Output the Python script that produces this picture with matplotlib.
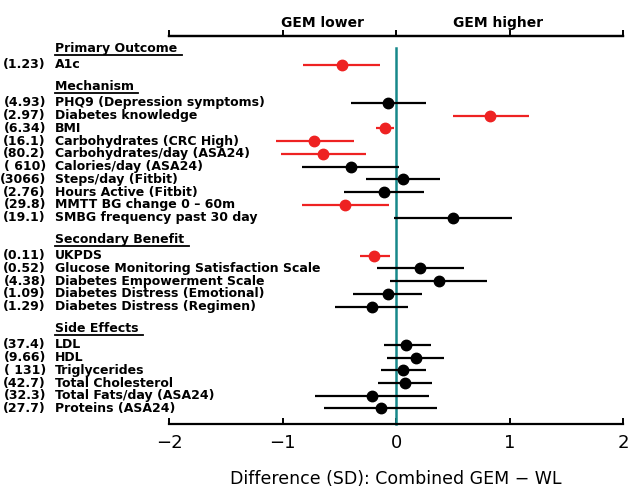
import matplotlib.pyplot as plt
from matplotlib.transforms import blended_transform_factory

# each section: labels, baseline SD, estimate, CI low, CI high, significant
primary_labels = ["A1c"]
primary_sd = ["(1.23)"]
primary_est = [-0.48]
primary_lo = [-0.82]
primary_hi = [-0.14]
primary_sig = [True]

mech_labels = ["PHQ9 (Depression symptoms)", "Diabetes knowledge", "BMI",
               "Carbohydrates (CRC High)", "Carbohydrates/day (ASA24)",
               "Calories/day (ASA24)", "Steps/day (Fitbit)", "Hours Active (Fitbit)",
               "MMTT BG change 0 \u2013 60m", "SMBG frequency past 30 day"]
mech_sd = ["(4.93)", "(2.97)", "(6.34)", "(16.1)", "(80.2)", "( 610)", "(3066)",
           "(2.76)", "(29.8)", "(19.1)"]
mech_est = [-0.07, 0.83, -0.10, -0.72, -0.64, -0.40, 0.06, -0.11, -0.45, 0.50]
mech_lo = [-0.40, 0.50, -0.18, -1.06, -1.01, -0.83, -0.26, -0.46, -0.83, -0.02]
mech_hi = [0.26, 1.17, -0.02, -0.37, -0.26, 0.03, 0.39, 0.25, -0.06, 1.02]
mech_sig = [False, True, True, True, True, False, False, False, True, False]

sec_labels = ["UKPDS", "Glucose Monitoring Satisfaction Scale",
              "Diabetes Empowerment Scale", "Diabetes Distress (Emotional)",
              "Diabetes Distress (Regimen)"]
sec_sd = ["(0.11)", "(0.52)", "(4.38)", "(1.09)", "(1.29)"]
sec_est = [-0.19, 0.21, 0.38, -0.07, -0.21]
sec_lo = [-0.32, -0.17, -0.05, -0.38, -0.54]
sec_hi = [-0.05, 0.60, 0.80, 0.23, 0.11]
sec_sig = [True, False, False, False, False]

side_labels = ["LDL", "HDL", "Triglycerides", "Total Cholesterol",
               "Total Fats/day (ASA24)", "Proteins (ASA24)"]
side_sd = ["(37.4)", "(9.66)", "( 131)", "(42.7)", "(32.3)", "(27.7)"]
side_est = [0.09, 0.18, 0.06, 0.08, -0.21, -0.13]
side_lo = [-0.11, -0.08, -0.13, -0.16, -0.71, -0.63]
side_hi = [0.31, 0.42, 0.26, 0.32, 0.29, 0.36]
side_sig = [False, False, False, False, False, False]

sections = [
    ("Primary Outcome", primary_labels, primary_sd, primary_est, primary_lo, primary_hi, primary_sig),
    ("Mechanism", mech_labels, mech_sd, mech_est, mech_lo, mech_hi, mech_sig),
    ("Secondary Benefit", sec_labels, sec_sd, sec_est, sec_lo, sec_hi, sec_sig),
    ("Side Effects", side_labels, side_sd, side_est, side_lo, side_hi, side_sig),
]

RED = "#ee2222"
TEAL = "#16888a"

fig = plt.figure(figsize=(6.3, 4.87), dpi=100)
ax = fig.add_axes([169 / 630, 1 - 424 / 487, (623 - 169) / 630, (424 - 36) / 487])
ax.set_xlim(-2, 2)
ax.set_ylim(29.22, -1.26)

trans = blended_transform_factory(fig.transFigure, ax.transData)

row = 0
for header, labels, sds, est, lo, hi, sig in sections:
    t = ax.text(55 / 630, row - 0.3, header + " ", transform=trans, fontsize=9,
                fontweight="bold", ha="left", va="center")
    # underline under the header
    fig.canvas.draw()
    bb = t.get_window_extent()
    fig.add_artist(plt.Line2D([bb.x0 / 630, bb.x1 / 630],
                              [(bb.y0 - 0.5) / 487] * 2, color="black", lw=1.3))
    row += 1
    for i in range(len(labels)):
        c = RED if sig[i] else "black"
        ax.plot([lo[i], hi[i]], [row, row], color=c, lw=1.6, solid_capstyle="butt", zorder=3)
        ax.plot(est[i], row, "o", color=c, ms=7.5, zorder=4)
        ax.text(46 / 630, row, sds[i], transform=trans, fontsize=9, fontweight="bold",
                ha="right", va="center")
        ax.text(55 / 630, row, labels[i], transform=trans, fontsize=9, fontweight="bold",
                ha="left", va="center")
        row += 1
    row += 1

ax.plot([0, 0], [-0.3, 29.22], color=TEAL, lw=1.8, zorder=2, clip_on=False)

ax.spines["left"].set_visible(False)
ax.spines["right"].set_visible(False)
ax.spines["top"].set_linewidth(1.6)
ax.spines["bottom"].set_linewidth(1.6)
ax.set_yticks([])
ax.set_xticks([-2, -1, 0, 1, 2])
ax.set_xticklabels(["\u22122", "\u22121", "0", "1", "2"])
ax.tick_params(axis="x", top=False, bottom=True, direction="in",
               labelsize=13, width=1.4, length=4, pad=7)

top = ax.secondary_xaxis("top")
top.set_xticks([-2, -1, 0, 1, 2])
top.set_xticklabels([])
top.tick_params(direction="out", length=4, width=1.4)
top.spines["top"].set_linewidth(1.6)

ax.text(-0.65, -2.25, "GEM lower", ha="center", va="center", fontsize=10, fontweight="bold")
ax.text(0.9, -2.25, "GEM higher", ha="center", va="center", fontsize=10, fontweight="bold")

ax.set_xlabel("Difference (SD): Combined GEM \u2212 WL", fontsize=12.5, labelpad=13)

fig.savefig("out.png", dpi=100)
